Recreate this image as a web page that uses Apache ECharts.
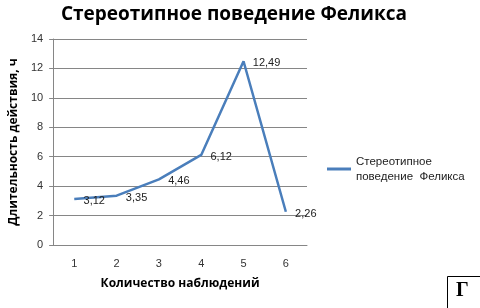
<!DOCTYPE html>
<html><head><meta charset="utf-8">
<script src="https://cdn.jsdelivr.net/npm/echarts@6/dist/echarts.min.js"></script>
<style>html,body{margin:0;padding:0;background:#fff}#c{width:480px;height:308px}</style>
</head><body><div id="c"></div>
<script>
var categories = ['1','2','3','4','5','6'];
var values = [3.12, 3.35, 4.46, 6.12, 12.49, 2.26];
var seriesName = 'Стереотипное\nповедение  Феликса';
var labels = ['3,12','3,35','4,46','6,12','12,49','2,26'];

var chart = echarts.init(document.getElementById('c'));
chart.setOption({
  animation: false,
  title: {
    text: 'Стереотипное поведение Феликса',
    left: 229, top: 0, textAlign: 'center',
    textStyle: {fontFamily: 'Open Sans', fontWeight: 'bold', fontSize: 19, color: '#000'}
  },
  legend: {
    left: 322, top: 149, orient: 'vertical',
    icon: 'path://M0,0 L24,0 L24,3 L0,3 Z', itemWidth: 24, itemHeight: 3, itemGap: 4,
    textStyle: {fontFamily: 'Liberation Sans', fontSize: 11.5, color: '#222', lineHeight: 15},
    data: [seriesName]
  },
  grid: {left: 44, right: 173, top: 39, bottom: 63},
  xAxis: {
    type: 'category', data: categories, boundaryGap: true,
    name: 'Количество наблюдений', nameLocation: 'middle', nameGap: 33,
    nameTextStyle: {fontFamily: 'Open Sans', fontWeight: 'bold', fontSize: 12, color: '#000'},
    axisLine: {lineStyle: {color: '#868686'}},
    axisTick: {show: false},
    axisLabel: {fontFamily: 'Liberation Sans', fontSize: 11, color: '#333', margin: 13}
  },
  yAxis: {
    type: 'value', min: 0, max: 14, interval: 2,
    name: 'Длительность действия, ч', nameLocation: 'middle', nameGap: 30,
    nameTextStyle: {fontFamily: 'Open Sans', fontWeight: 'bold', fontSize: 12, color: '#000'},
    axisLine: {show: true, lineStyle: {color: '#868686'}},
    axisTick: {show: true, length: 4, lineStyle: {color: '#868686'}},
    splitLine: {lineStyle: {color: '#868686'}},
    axisLabel: {fontFamily: 'Liberation Sans', fontSize: 11, color: '#333', margin: 10}
  },
  series: [{
    name: seriesName, type: 'line', data: values,
    showSymbol: true, symbol: 'circle', symbolSize: 0.5,
    lineStyle: {color: '#4a7ebb', width: 2.5},
    itemStyle: {color: '#4a7ebb'},
    label: {
      show: true, position: 'right', distance: 9, offset: [0, 2],
      fontFamily: 'Liberation Sans', fontSize: 11, color: '#222',
      formatter: function(p){ return labels[p.dataIndex]; }
    }
  }],
  graphic: [
    {type: 'rect', shape: {x: 447.5, y: 276.5, width: 40, height: 40}, style: {fill: '#fff', stroke: '#000', lineWidth: 1}},
    {type: 'text', x: 456, y: 281, style: {text: 'Г', font: 'bold 20px "Liberation Serif"', fill: '#000'}}
  ]
});
</script></body></html>
